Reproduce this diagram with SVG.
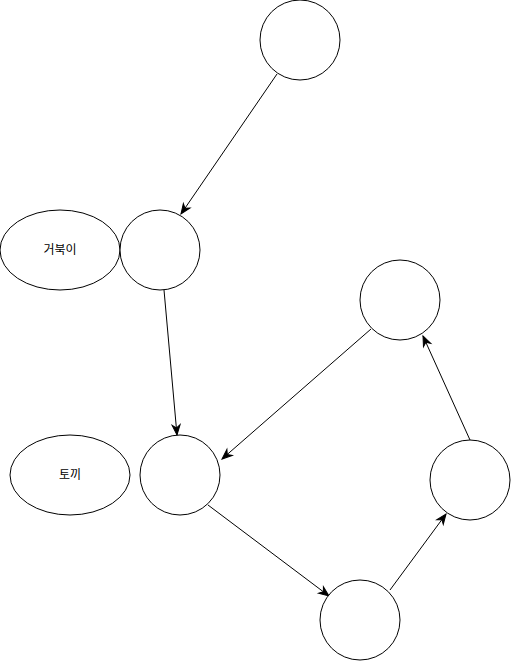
<svg xmlns="http://www.w3.org/2000/svg" width="511" height="661" viewBox="0 0 511 661">
<style>
.n{fill:#fff;stroke:#000;stroke-width:1}
.e{fill:none;stroke:#000;stroke-width:1;marker-end:url(#arr)}
.t{font-family:"Liberation Sans","Noto Sans CJK KR",sans-serif;font-size:12px;fill:#000;text-anchor:middle;dominant-baseline:central}
</style>
<defs>
<marker id="arr" markerUnits="userSpaceOnUse" markerWidth="12" markerHeight="10" refX="10" refY="4" orient="auto" overflow="visible">
<path d="M0,0 L10,4 L0,8 L3,4 Z" fill="#000" stroke="#000" stroke-width="1"/>
</marker>
</defs>
<rect width="511" height="661" fill="#fff"/>
<g id="connectors">
<line class="e" x1="277" y1="74" x2="181" y2="214"/>
<line class="e" x1="164" y1="290" x2="177" y2="435"/>
<line class="e" x1="371" y1="329" x2="222" y2="459"/>
<line class="e" x1="208" y1="505" x2="329" y2="596"/>
<line class="e" x1="390" y1="590" x2="446" y2="514"/>
<line class="e" x1="470" y1="440" x2="423" y2="336"/>
</g>
<g id="top"><circle class="n" cx="300" cy="40" r="40"/></g>
<g id="turtle"><ellipse class="n" cx="60" cy="250" rx="60" ry="40"/><text class="t" x="60" y="250">거북이</text></g>
<g id="c2"><circle class="n" cx="160" cy="250" r="40"/></g>
<g id="rabbit"><ellipse class="n" cx="70" cy="475" rx="60" ry="40"/><text class="t" x="70" y="475">토끼</text></g>
<g id="c3"><circle class="n" cx="180" cy="475" r="40"/></g>
<g id="c4"><circle class="n" cx="400" cy="300" r="40"/></g>
<g id="c5"><circle class="n" cx="470" cy="480" r="40"/></g>
<g id="c6"><circle class="n" cx="360" cy="620" r="40"/></g>
</svg>
